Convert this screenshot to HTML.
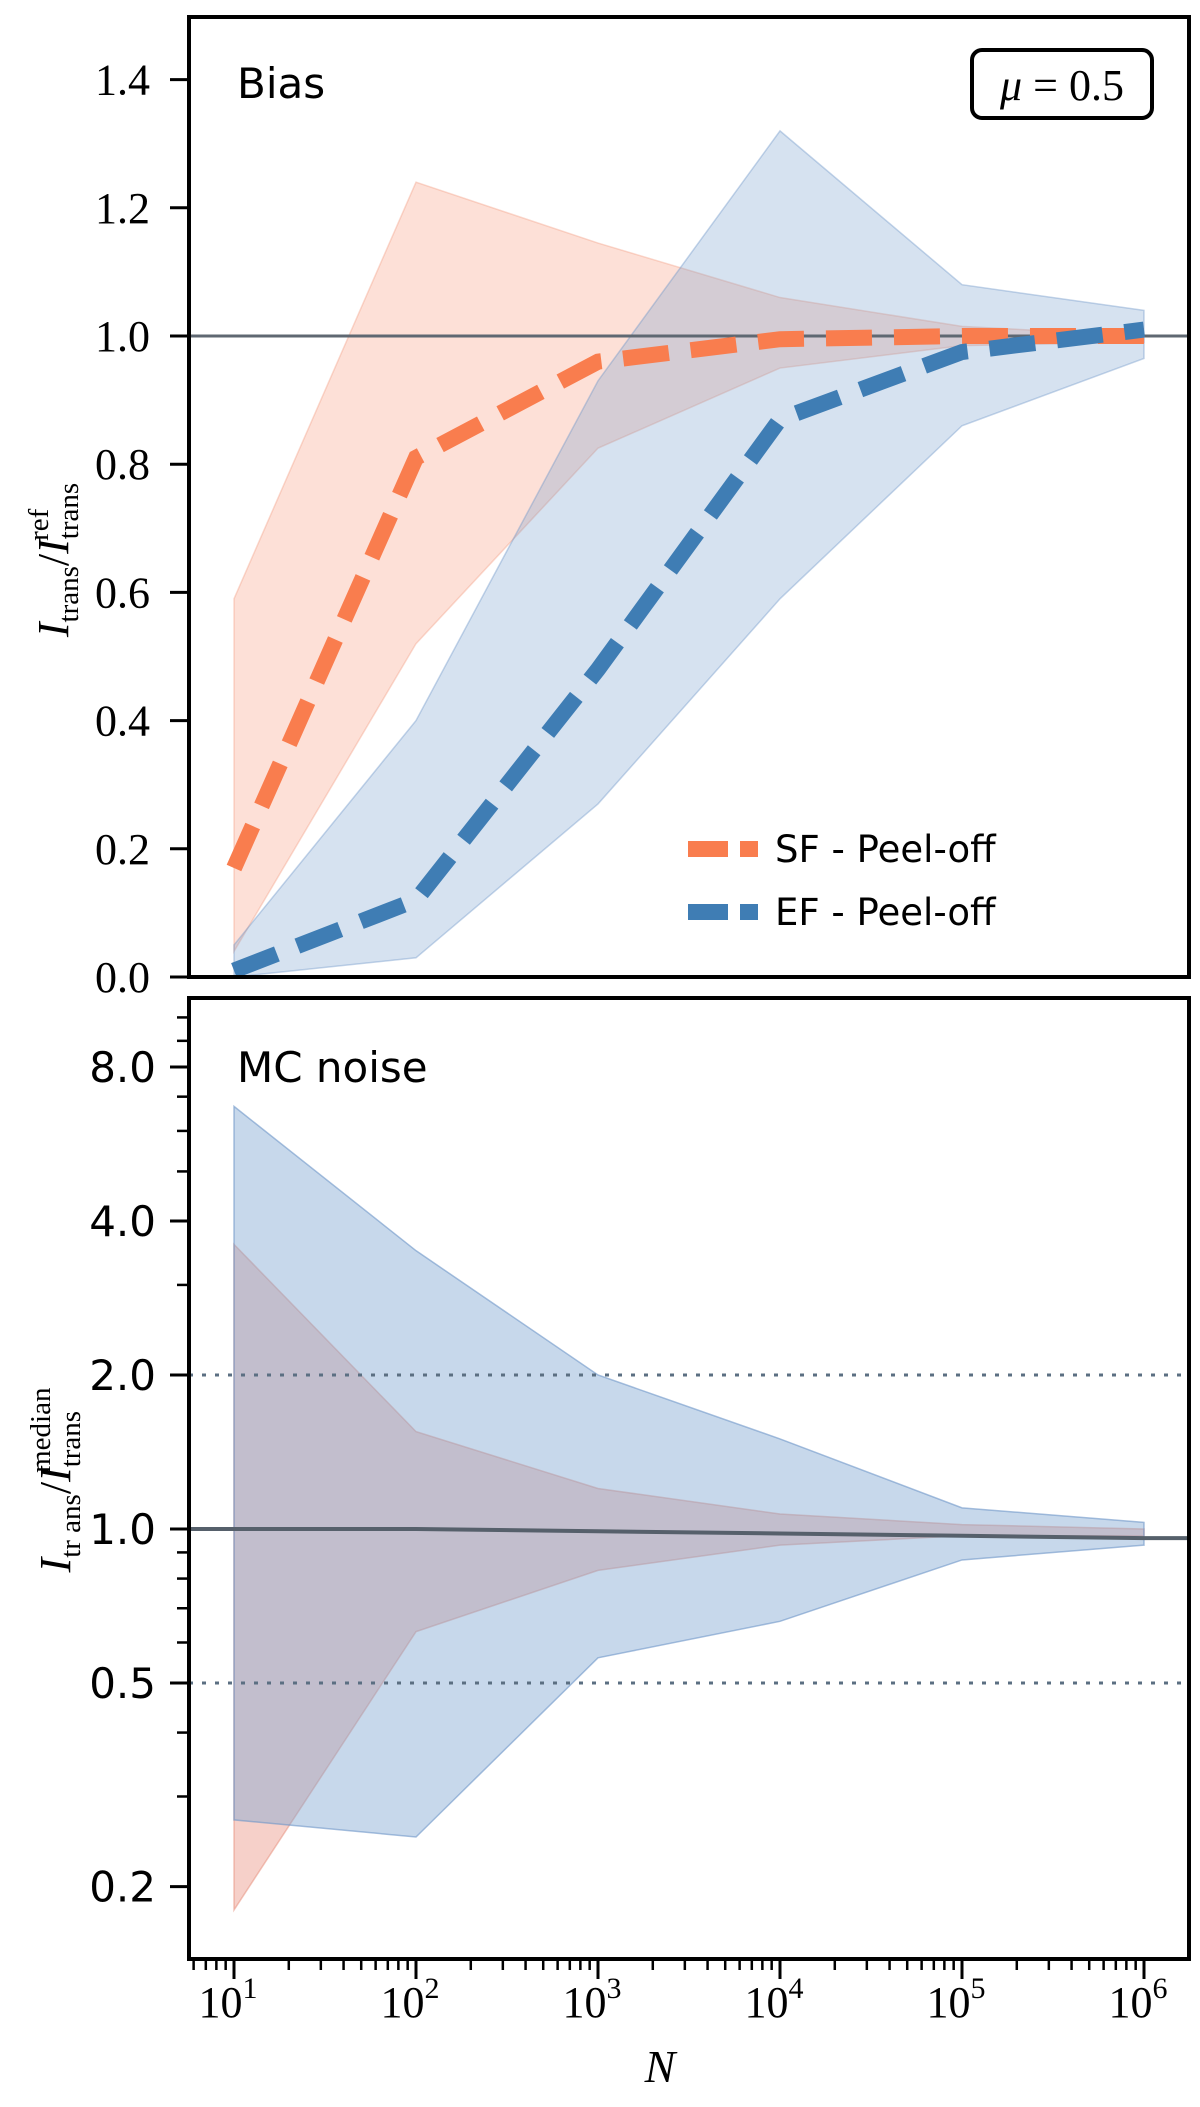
<!DOCTYPE html>
<html><head><meta charset="utf-8"><style>
html,body{margin:0;padding:0;background:#fff;}
svg{display:block;}
.serif{font-family:"Liberation Serif",serif;}
.sans{font-family:"DejaVu Sans","Liberation Sans",sans-serif;}
</style></head><body>
<svg id="chart" width="1200" height="2107" viewBox="0 0 1200 2107" xmlns="http://www.w3.org/2000/svg"></svg>
<script>
const nValues = [1, 2, 3, 4, 5, 6]; // log10 N
const xTickLabels = ["1","2","3","4","5","6"];
// Top panel (bias)
const sfMedian = [0.17, 0.81, 0.96, 0.995, 1.0, 1.0];
const sfUpper = [0.59, 1.24, 1.145, 1.06, 1.015, 1.0];
const sfLower = [0.04, 0.52, 0.825, 0.95, 0.985, 0.99];
const efMedian = [0.01, 0.12, 0.48, 0.87, 0.975, 1.01];
const efUpper = [0.05, 0.40, 0.93, 1.32, 1.08, 1.04];
const efLower = [0.0, 0.03, 0.27, 0.59, 0.86, 0.965];
const topTicks = [0.0, 0.2, 0.4, 0.6, 0.8, 1.0, 1.2, 1.4];
// Bottom panel (MC noise)
const sfNoiseUpper = [3.6, 1.55, 1.2, 1.07, 1.02, 1.0];
const sfNoiseLower = [0.18, 0.63, 0.83, 0.93, 0.97, 0.97];
const efNoiseUpper = [6.7, 3.5, 2.0, 1.5, 1.1, 1.03];
const efNoiseLower = [0.27, 0.25, 0.56, 0.66, 0.87, 0.93];
const noiseMedian = [1.0, 1.0, 0.99, 0.98, 0.97, 0.96];
const botTicks = [0.2, 0.5, 1.0, 2.0, 4.0, 8.0];

const svg = document.getElementById('chart');
const NS = 'http://www.w3.org/2000/svg';
function mk(tag, attrs, parent){const e=document.createElementNS(NS,tag);for(const k in attrs)e.setAttribute(k,attrs[k]);(parent||svg).appendChild(e);return e;}

const X0=189, X1=1189;
function xs(l){return 234 + (l-1)*182;}
function yTop(v){return 977 - 641*v;}
function yBot(v){return 1529 - Math.log2(v)*154;}
const TOP0=17, TOP1=977, BOT0=998, BOT1=1959;

function band(up, lo, ys, fill, stroke, name){
  let d='';
  nValues.forEach((n,i)=>{d+=(i?'L':'M')+xs(n)+','+ys(up[i]);});
  for(let i=nValues.length-1;i>=0;i--) d+='L'+xs(nValues[i])+','+ys(lo[i]);
  const p=mk('path',{d:d+'Z',fill:fill,stroke:stroke,'stroke-width':1.5});
  
  
}
function line(vals, ys, color, name){
  const pts=nValues.map((n,i)=>xs(n)+','+ys(vals[i])).join(' ');
  const p=mk('polyline',{points:pts,fill:'none',stroke:color,'stroke-width':16,'stroke-dasharray':'46 22'});
  
  
}

// ---- Top panel
band(sfUpper, sfLower, yTop, 'rgba(250,160,130,0.32)', 'rgba(240,150,120,0.35)', 'sf-bias-band');
band(efUpper, efLower, yTop, 'rgba(120,160,205,0.30)', 'rgba(110,150,200,0.4)', 'ef-bias-band');
const ref=mk('line',{x1:X0,x2:X1,y1:yTop(1),y2:yTop(1),stroke:'#5f6872','stroke-width':3});


line(sfMedian, yTop, '#f97d4e', 'sf-bias-line');
line(efMedian, yTop, '#3f7db4', 'ef-bias-line');
const tf=mk('rect',{x:X0,y:TOP0,width:X1-X0,height:TOP1-TOP0,fill:'none',stroke:'#000','stroke-width':4});


topTicks.forEach(v=>{
  const y=yTop(v);
  mk('line',{x1:170,x2:X0,y1:y,y2:y,stroke:'#000','stroke-width':3});
  const t=mk('text',{x:150,y:y+15,'text-anchor':'end','font-size':44,class:'serif'});
  t.textContent=v.toFixed(1);
  
  
});

// ---- Bottom panel
band(sfNoiseUpper, sfNoiseLower, yBot, 'rgba(235,150,135,0.45)', 'rgba(230,140,120,0.5)', 'sf-noise-band');
band(efNoiseUpper, efNoiseLower, yBot, 'rgba(130,168,210,0.45)', 'rgba(110,150,200,0.6)', 'ef-noise-band');
[2.0,0.5].forEach(v=>{
  const l=mk('line',{x1:X0,x2:X1,y1:yBot(v),y2:yBot(v),stroke:'#5b6f82','stroke-width':3,'stroke-dasharray':'4 9'});
  
  
});
{
  const pts=[X0+','+yBot(1)].concat(nValues.map((n,i)=>xs(n)+','+yBot(noiseMedian[i]))).concat([X1+','+yBot(noiseMedian[noiseMedian.length-1])]).join(' ');
  const med=mk('polyline',{points:pts,fill:'none',stroke:'#56606b','stroke-width':4});
  
  
}
const bf=mk('rect',{x:X0,y:BOT0,width:X1-X0,height:BOT1-BOT0,fill:'none',stroke:'#000','stroke-width':4});


botTicks.forEach(v=>{
  const y=yBot(v);
  mk('line',{x1:170,x2:X0,y1:y,y2:y,stroke:'#000','stroke-width':3});
  const t=mk('text',{x:156,y:y+15,'text-anchor':'end','font-size':42,class:'sans'});
  t.textContent=v.toFixed(1);
  
  
});
[0.3,0.4,0.6,0.7,0.8,0.9,3,5,6,7,9,10].forEach(v=>{
  const y=yBot(v); if(y<BOT0||y>BOT1) return;
  mk('line',{x1:177,x2:X0,y1:y,y2:y,stroke:'#000','stroke-width':2.5});
});
// x ticks
for(let d=0; d<7; d++){
  for(let m=1;m<10;m++){
    const l=d+Math.log10(m);
    const x=xs(l); if(x<X0||x>X1) continue;
    mk('line',{x1:x,x2:x,y1:BOT1,y2:BOT1+(m===1?20:11),stroke:'#000','stroke-width':m===1?3:2.5});
  }
}
xTickLabels.forEach((s,i)=>{
  const x=xs(nValues[i]);
  const t=mk('text',{x:x-6,y:2017,'text-anchor':'middle','font-size':44,class:'serif'});
  t.textContent='10';
  const sup=mk('tspan',{dy:-19,'font-size':30});
  sup.textContent=s;
  t.appendChild(sup);
  
  
});
</script>
<svg style="position:absolute;left:0;top:0" width="1200" height="2107">
  <text x="237" y="98" font-size="42" font-family="DejaVu Sans, Liberation Sans, sans-serif">Bias</text>
  <rect x="972" y="50" width="180" height="68" rx="10" fill="#fff" stroke="#000" stroke-width="4"/>
  <text x="1062" y="100" font-size="44" text-anchor="middle" font-family="Liberation Serif, serif"><tspan font-style="italic">μ</tspan> = 0.5</text>
  <line x1="688" x2="758" y1="849" y2="849" stroke="#f97d4e" stroke-width="16" stroke-dasharray="40 12"/>
  <text x="775" y="862" font-size="37" font-family="DejaVu Sans, Liberation Sans, sans-serif">SF - Peel-off</text>
  <line x1="688" x2="758" y1="912" y2="912" stroke="#3f7db4" stroke-width="16" stroke-dasharray="40 12"/>
  <text x="775" y="925" font-size="37" font-family="DejaVu Sans, Liberation Sans, sans-serif">EF - Peel-off</text>
  <text x="237" y="1082" font-size="42" font-family="DejaVu Sans, Liberation Sans, sans-serif">MC noise</text>
  <text transform="translate(68,560) rotate(-90)" text-anchor="middle" font-size="44" font-family="Liberation Serif, serif"><tspan font-style="italic">I</tspan><tspan font-size="29" dy="10">trans</tspan><tspan dy="-10">/</tspan><tspan font-style="italic">I</tspan><tspan font-size="29" dy="10">trans</tspan><tspan font-size="29" dx="-58" dy="-30">ref</tspan></text>
  <text transform="translate(70,1480) rotate(-90)" text-anchor="middle" font-size="44" font-family="Liberation Serif, serif"><tspan font-style="italic">I</tspan><tspan font-size="29" dy="10">tr ans</tspan><tspan dy="-10">/</tspan><tspan font-style="italic">I</tspan><tspan font-size="29" dy="10">trans</tspan><tspan font-size="29" dx="-62" dy="-30">median</tspan></text>
  <text x="660" y="2082" font-size="46" font-style="italic" text-anchor="middle" font-family="Liberation Serif, serif">N</text>
</svg>
</body></html>
